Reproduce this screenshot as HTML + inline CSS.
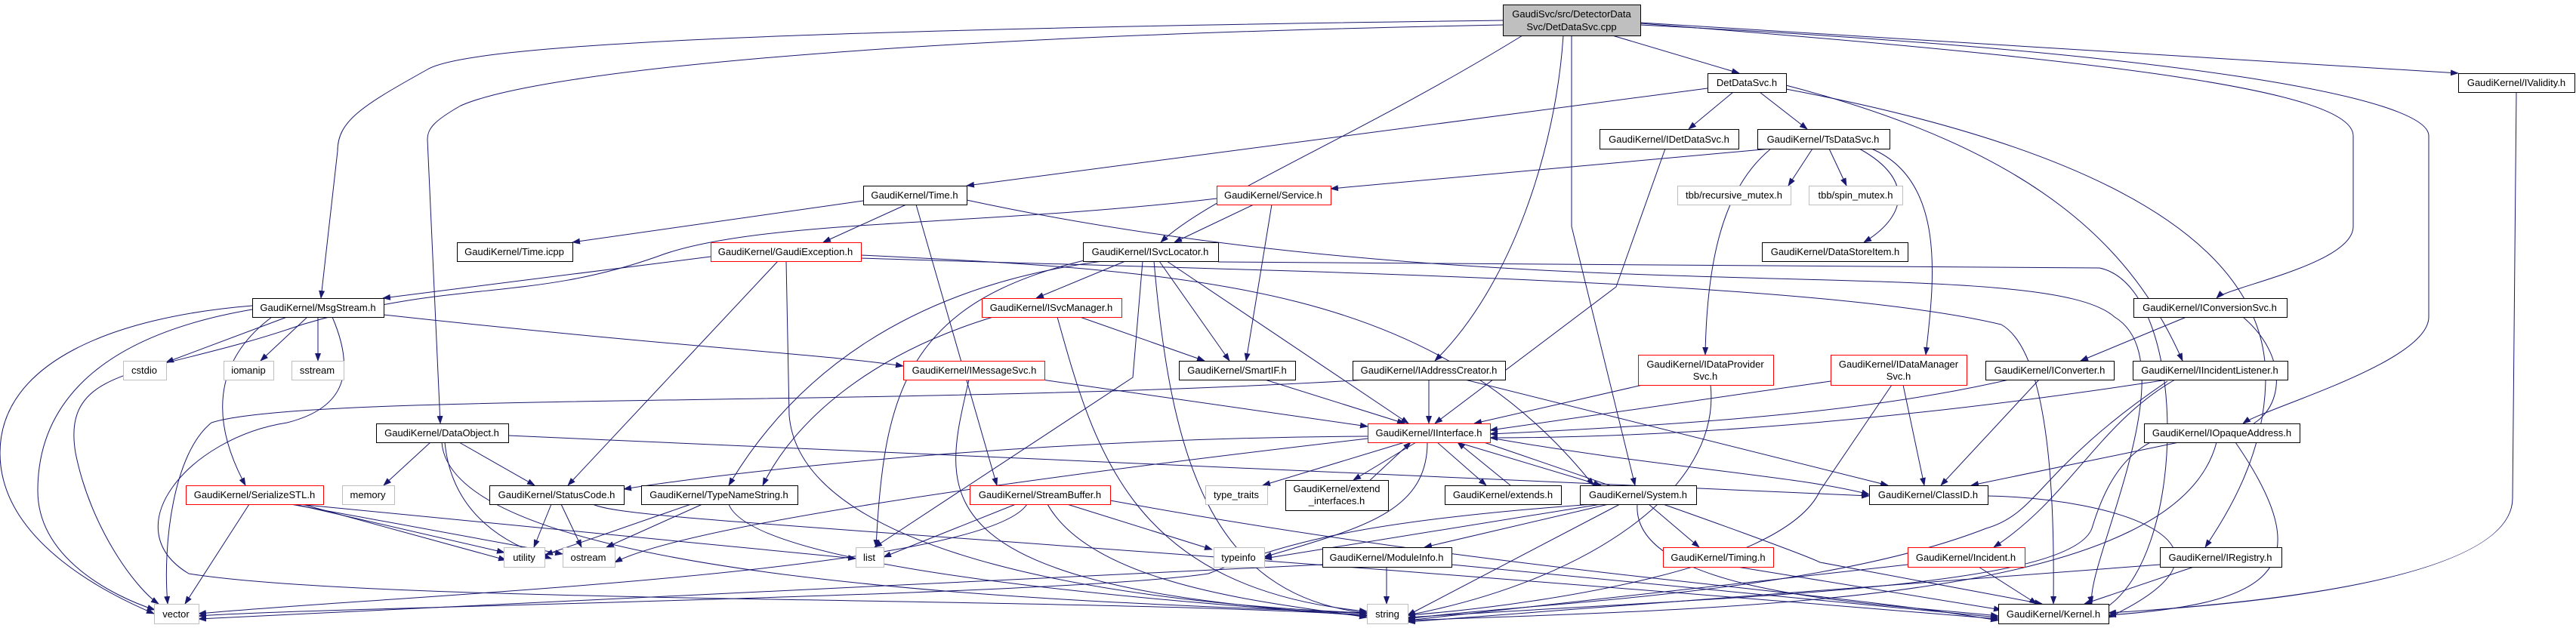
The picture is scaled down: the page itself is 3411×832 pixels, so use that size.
<!DOCTYPE html>
<html><head><meta charset="utf-8"><style>
html,body{margin:0;padding:0;background:#fff;}
svg{display:block;}
text{font-family:"Liberation Sans",sans-serif;font-size:13px;fill:#000;}
</style></head><body>
<svg width="3411" height="832" viewBox="0 0 3411 832" xmlns="http://www.w3.org/2000/svg">
<defs><marker id="a" markerWidth="11" markerHeight="8" refX="10" refY="4" orient="auto" markerUnits="userSpaceOnUse"><path d="M0,0 L11,4 L0,8 z" fill="#191970"/></marker></defs>
<g fill="none" stroke="#191970" stroke-width="1" marker-end="url(#a)">
<path d="M1990,27 C1000,40 620,60 566,92 C480,140 447,160 447,200 L425,395"/>
<path d="M1990,33 C1100,50 700,100 610,140 C575,160 566,170 566,185 L583,561"/>
<path d="M2016,47 C1800,180 1600,260 1537,321"/>
<path d="M2070,47 C2060,200 2000,380 1900,478"/>
<path d="M2081,47 L2081,300 L2165,643"/>
<path d="M2135,47 L2303,97"/>
<path d="M2172,30 L3255,97"/>
<path d="M2172,31 C2800,80 3116,120 3116,180 L3116,300 C3116,350 2950,380 2935,395"/>
<path d="M2172,33 C2900,70 3216,130 3216,180 L3216,420 C3216,480 3000,540 2970,561"/>
<path d="M3332,122 L3327,660 C3327,780 2900,805 2792,812"/>
<path d="M2261,117 L1280,246"/>
<path d="M2295,122 L2236,171"/>
<path d="M2330,122 L2393,171"/>
<path d="M2365,113 C2700,200 2825,330 2890,478"/>
<path d="M2365,118 C2800,200 3000,330 3000,500 C3000,600 2950,680 2920,725"/>
<path d="M2205,197 L2140,380 L1900,561"/>
<path d="M2345,197 L1762,250"/>
<path d="M2400,197 L2368,246"/>
<path d="M2422,197 L2445,246"/>
<path d="M2462,197 C2540,240 2520,290 2468,321"/>
<path d="M2345,197 C2280,250 2260,350 2258,470"/>
<path d="M2478,197 C2580,240 2560,380 2550,470"/>
<path d="M1143,266 L758,321"/>
<path d="M1200,271 L1090,321"/>
<path d="M1213,271 L1320,643"/>
<path d="M1280,265 C2000,420 2700,330 2800,420 C2900,480 2760,750 2770,800"/>
<path d="M1660,271 L1555,321"/>
<path d="M1684,271 L1650,478"/>
<path d="M1611,263 C1300,300 1000,290 870,340 C700,400 600,370 400,430 C200,500 80,480 100,600 C120,700 180,780 210,800"/>
<path d="M941,340 L507,395"/>
<path d="M1030,346 L752,643"/>
<path d="M1041,346 L1045,550 C1060,740 1500,800 1810,812"/>
<path d="M1140,338 C1600,360 1900,380 2110,643"/>
<path d="M1140,342 C1700,360 2400,370 2650,430 C2720,470 2720,700 2719,800"/>
<path d="M1490,346 L1372,395"/>
<path d="M1535,346 L1628,478"/>
<path d="M1545,346 L1865,561"/>
<path d="M1460,346 C1200,380 1050,500 965,643"/>
<path d="M1513,346 L1500,500 L1158,725"/>
<path d="M1528,346 C1550,600 1600,790 1810,812"/>
<path d="M1613,347 L2780,355 C2900,380 2900,750 2780,810"/>
<path d="M1440,344 C1200,400 1170,520 1160,725"/>
<path d="M380,420 L220,480"/>
<path d="M407,420 L345,478"/>
<path d="M421,420 L421,478"/>
<path d="M360,420 C280,480 280,560 325,643"/>
<path d="M334,410 C100,450 50,560 50,650 C50,740 150,790 205,808"/>
<path d="M334,405 C150,420 0,480 0,600 C0,720 150,790 204,813"/>
<path d="M440,420 C470,490 460,540 380,560 C250,580 150,700 250,760 C500,800 1400,790 1810,815"/>
<path d="M508,417 C900,460 1100,470 1196,485"/>
<path d="M1430,420 L1595,478"/>
<path d="M1315,420 C1150,470 1050,560 1010,643"/>
<path d="M1400,420 C1450,600 1500,780 1810,810"/>
<path d="M1380,503 L1811,565"/>
<path d="M1283,503 C1250,650 1200,780 1810,815"/>
<path d="M1675,503 L1860,561"/>
<path d="M1892,503 L1892,561"/>
<path d="M1940,503 L2500,643"/>
<path d="M1810,503 C1200,540 400,520 280,560 C230,600 215,720 222,800"/>
<path d="M2175,510 L1952,561"/>
<path d="M2265,510 C2280,650 2100,770 1864,815"/>
<path d="M2424,505 L1973,570"/>
<path d="M2520,510 L2548,643"/>
<path d="M2505,510 L2410,650 C2360,760 2000,805 1864,815"/>
<path d="M2660,503 C2500,540 2300,560 1973,575"/>
<path d="M2700,503 L2570,643"/>
<path d="M2895,420 L2755,478"/>
<path d="M2970,420 C3040,480 3020,560 2960,570 C2850,560 2800,600 2770,700 C2740,780 2300,790 1864,818"/>
<path d="M2870,503 C2500,560 2200,580 1973,580"/>
<path d="M2880,503 C2780,560 2740,660 2640,725"/>
<path d="M2870,505 C2700,620 2700,680 2630,700 C2400,790 2000,800 1864,820"/>
<path d="M2885,586 L2610,643"/>
<path d="M2935,586 C2880,800 2300,805 1864,822"/>
<path d="M2960,586 C3080,760 3000,800 2792,815"/>
<path d="M2632,657 C2800,660 3000,720 2792,818"/>
<path d="M1811,578 C1400,580 1000,620 826,648"/>
<path d="M1860,586 L1672,643"/>
<path d="M1875,586 L1792,636"/>
<path d="M1903,586 L1968,643"/>
<path d="M1930,586 L2120,643"/>
<path d="M1811,581 C1300,640 900,700 814,745"/>
<path d="M1890,586 C1890,680 1800,700 1674,738"/>
<path d="M1973,580 C2200,620 2380,630 2475,655"/>
<path d="M1965,586 C2300,700 2400,740 2410,745 L2704,800"/>
<path d="M1810,640 L1868,586" />
<path d="M2000,643 L1930,586" />
<path d="M570,586 L508,643"/>
<path d="M608,586 L708,643"/>
<path d="M589,586 C600,700 700,730 730,740"/>
<path d="M585,586 C600,790 1600,800 1810,813"/>
<path d="M673,577 C1500,610 2000,640 2475,657"/>
<path d="M330,668 L245,800"/>
<path d="M390,668 L668,732"/>
<path d="M385,668 L745,734"/>
<path d="M395,668 L1133,740"/>
<path d="M400,668 L670,742" />
<path d="M730,668 L707,725"/>
<path d="M743,668 L770,725"/>
<path d="M785,668 C830,690 1200,700 2646,820"/>
<path d="M915,668 L722,735"/>
<path d="M930,668 L803,725"/>
<path d="M965,668 C1000,760 1600,800 1810,816"/>
<path d="M1345,668 L1170,738"/>
<path d="M1360,668 C1300,760 500,790 263,813"/>
<path d="M1413,668 L1605,728"/>
<path d="M1387,668 C1450,780 1700,800 1810,818"/>
<path d="M1470,663 C2000,760 2400,780 2646,822"/>
<path d="M2120,668 L1674,740"/>
<path d="M2130,668 L1886,725"/>
<path d="M2183,668 L2250,725"/>
<path d="M2145,668 L1864,815"/>
<path d="M2110,668 C1800,690 1700,720 1600,760 C1400,790 400,805 263,816"/>
<path d="M2168,668 C2160,790 2500,800 2646,816"/>
<path d="M1836,751 L1836,800"/>
<path d="M1922,748 L2646,818"/>
<path d="M1751,748 L263,820"/>
<path d="M2300,751 L2650,808"/>
<path d="M2526,748 L1864,822"/>
<path d="M2620,751 L2697,800"/>
<path d="M2860,748 L1864,824"/>
<path d="M2905,751 L2760,800"/>
</g>
<g stroke-width="1">
<rect x="1990.5" y="6.5" width="182" height="41" fill="#bfbfbf" stroke="#000"/>
<g fill="#fff" stroke="#000">
<rect x="2261.5" y="97.5" width="104" height="25"/>
<rect x="3255.5" y="97.5" width="154" height="25"/>
<rect x="2118.5" y="171.5" width="184" height="26"/>
<rect x="2327.5" y="171.5" width="175" height="26"/>
<rect x="1143.5" y="246.5" width="137" height="25"/>
<rect x="605.5" y="321.5" width="153" height="25"/>
<rect x="1434.5" y="321.5" width="179" height="25"/>
<rect x="2333.5" y="321.5" width="193" height="25"/>
<rect x="334.5" y="395.5" width="174" height="25"/>
<rect x="2825.5" y="395.5" width="203" height="25"/>
<rect x="1561.5" y="478.5" width="154" height="25"/>
<rect x="1791.5" y="478.5" width="202" height="25"/>
<rect x="2629.5" y="478.5" width="170" height="25"/>
<rect x="2824.5" y="478.5" width="205" height="25"/>
<rect x="498.5" y="561.5" width="175" height="25"/>
<rect x="2839.5" y="561.5" width="206" height="25"/>
<rect x="648.5" y="643.5" width="178" height="25"/>
<rect x="849.5" y="643.5" width="207" height="25"/>
<rect x="1702.5" y="636.5" width="136" height="40"/>
<rect x="1913.5" y="643.5" width="154" height="25"/>
<rect x="2092.5" y="643.5" width="154" height="25"/>
<rect x="2475.5" y="643.5" width="157" height="25"/>
<rect x="1751.5" y="725.5" width="171" height="26"/>
<rect x="2860.5" y="725.5" width="161" height="26"/>
<rect x="2646.5" y="800.5" width="146" height="26"/>
</g>
<g fill="#fff" stroke="#ff0000">
<rect x="1611.5" y="246.5" width="151" height="25"/>
<rect x="941.5" y="321.5" width="199" height="25"/>
<rect x="1300.5" y="395.5" width="185" height="25"/>
<rect x="1196.5" y="478.5" width="187" height="25"/>
<rect x="2169.5" y="470.5" width="179" height="40"/>
<rect x="2424.5" y="470.5" width="180" height="40"/>
<rect x="1811.5" y="561.5" width="162" height="25"/>
<rect x="246.5" y="643.5" width="182" height="25"/>
<rect x="1284.5" y="643.5" width="186" height="25"/>
<rect x="2202.5" y="725.5" width="146" height="26"/>
<rect x="2526.5" y="725.5" width="155" height="26"/>
</g>
<g fill="#fff" stroke="#bfbfbf">
<rect x="2221.5" y="246.5" width="150" height="25"/>
<rect x="2395.5" y="246.5" width="124" height="25"/>
<rect x="163.5" y="478.5" width="57" height="25"/>
<rect x="296.5" y="478.5" width="66" height="25"/>
<rect x="386.5" y="478.5" width="69" height="25"/>
<rect x="453.5" y="643.5" width="69" height="25"/>
<rect x="1596.5" y="643.5" width="82" height="25"/>
<rect x="667.5" y="725.5" width="54" height="26"/>
<rect x="745.5" y="725.5" width="69" height="26"/>
<rect x="1133.5" y="725.5" width="37" height="26"/>
<rect x="1607.5" y="725.5" width="67" height="26"/>
<rect x="204.5" y="800.5" width="59" height="26"/>
<rect x="1810.5" y="800.5" width="54" height="26"/>
</g>
</g>
<g text-anchor="middle">
<text x="2081" y="23">GaudiSvc/src/DetectorData</text>
<text x="2081" y="40">Svc/DetDataSvc.cpp</text>
<text x="2313" y="114">DetDataSvc.h</text>
<text x="3332" y="114">GaudiKernel/IValidity.h</text>
<text x="2210" y="189">GaudiKernel/IDetDataSvc.h</text>
<text x="2414" y="189">GaudiKernel/TsDataSvc.h</text>
<text x="1211" y="263">GaudiKernel/Time.h</text>
<text x="1686" y="263">GaudiKernel/Service.h</text>
<text x="2296" y="263">tbb/recursive_mutex.h</text>
<text x="2457" y="263">tbb/spin_mutex.h</text>
<text x="681" y="338">GaudiKernel/Time.icpp</text>
<text x="1040" y="338">GaudiKernel/GaudiException.h</text>
<text x="1523" y="338">GaudiKernel/ISvcLocator.h</text>
<text x="2430" y="338">GaudiKernel/DataStoreItem.h</text>
<text x="421" y="412">GaudiKernel/MsgStream.h</text>
<text x="1392" y="412">GaudiKernel/ISvcManager.h</text>
<text x="2926" y="412">GaudiKernel/IConversionSvc.h</text>
<text x="191" y="495">cstdio</text>
<text x="329" y="495">iomanip</text>
<text x="420" y="495">sstream</text>
<text x="1290" y="495">GaudiKernel/IMessageSvc.h</text>
<text x="1638" y="495">GaudiKernel/SmartIF.h</text>
<text x="1892" y="495">GaudiKernel/IAddressCreator.h</text>
<text x="2258" y="487">GaudiKernel/IDataProvider</text>
<text x="2258" y="503">Svc.h</text>
<text x="2514" y="487">GaudiKernel/IDataManager</text>
<text x="2514" y="503">Svc.h</text>
<text x="2714" y="495">GaudiKernel/IConverter.h</text>
<text x="2926" y="495">GaudiKernel/IIncidentListener.h</text>
<text x="585" y="578">GaudiKernel/DataObject.h</text>
<text x="1892" y="578">GaudiKernel/IInterface.h</text>
<text x="2942" y="578">GaudiKernel/IOpaqueAddress.h</text>
<text x="337" y="660">GaudiKernel/SerializeSTL.h</text>
<text x="487" y="660">memory</text>
<text x="737" y="660">GaudiKernel/StatusCode.h</text>
<text x="952" y="660">GaudiKernel/TypeNameString.h</text>
<text x="1377" y="660">GaudiKernel/StreamBuffer.h</text>
<text x="1637" y="660">type_traits</text>
<text x="1770" y="652">GaudiKernel/extend</text>
<text x="1770" y="668">_interfaces.h</text>
<text x="1990" y="660">GaudiKernel/extends.h</text>
<text x="2169" y="660">GaudiKernel/System.h</text>
<text x="2553" y="660">GaudiKernel/ClassID.h</text>
<text x="694" y="743">utility</text>
<text x="779" y="743">ostream</text>
<text x="1151" y="743">list</text>
<text x="1640" y="743">typeinfo</text>
<text x="1836" y="743">GaudiKernel/ModuleInfo.h</text>
<text x="2275" y="743">GaudiKernel/Timing.h</text>
<text x="2603" y="743">GaudiKernel/Incident.h</text>
<text x="2940" y="743">GaudiKernel/IRegistry.h</text>
<text x="233" y="818">vector</text>
<text x="1837" y="818">string</text>
<text x="2719" y="818">GaudiKernel/Kernel.h</text>
</g>
</svg>
</body></html>
